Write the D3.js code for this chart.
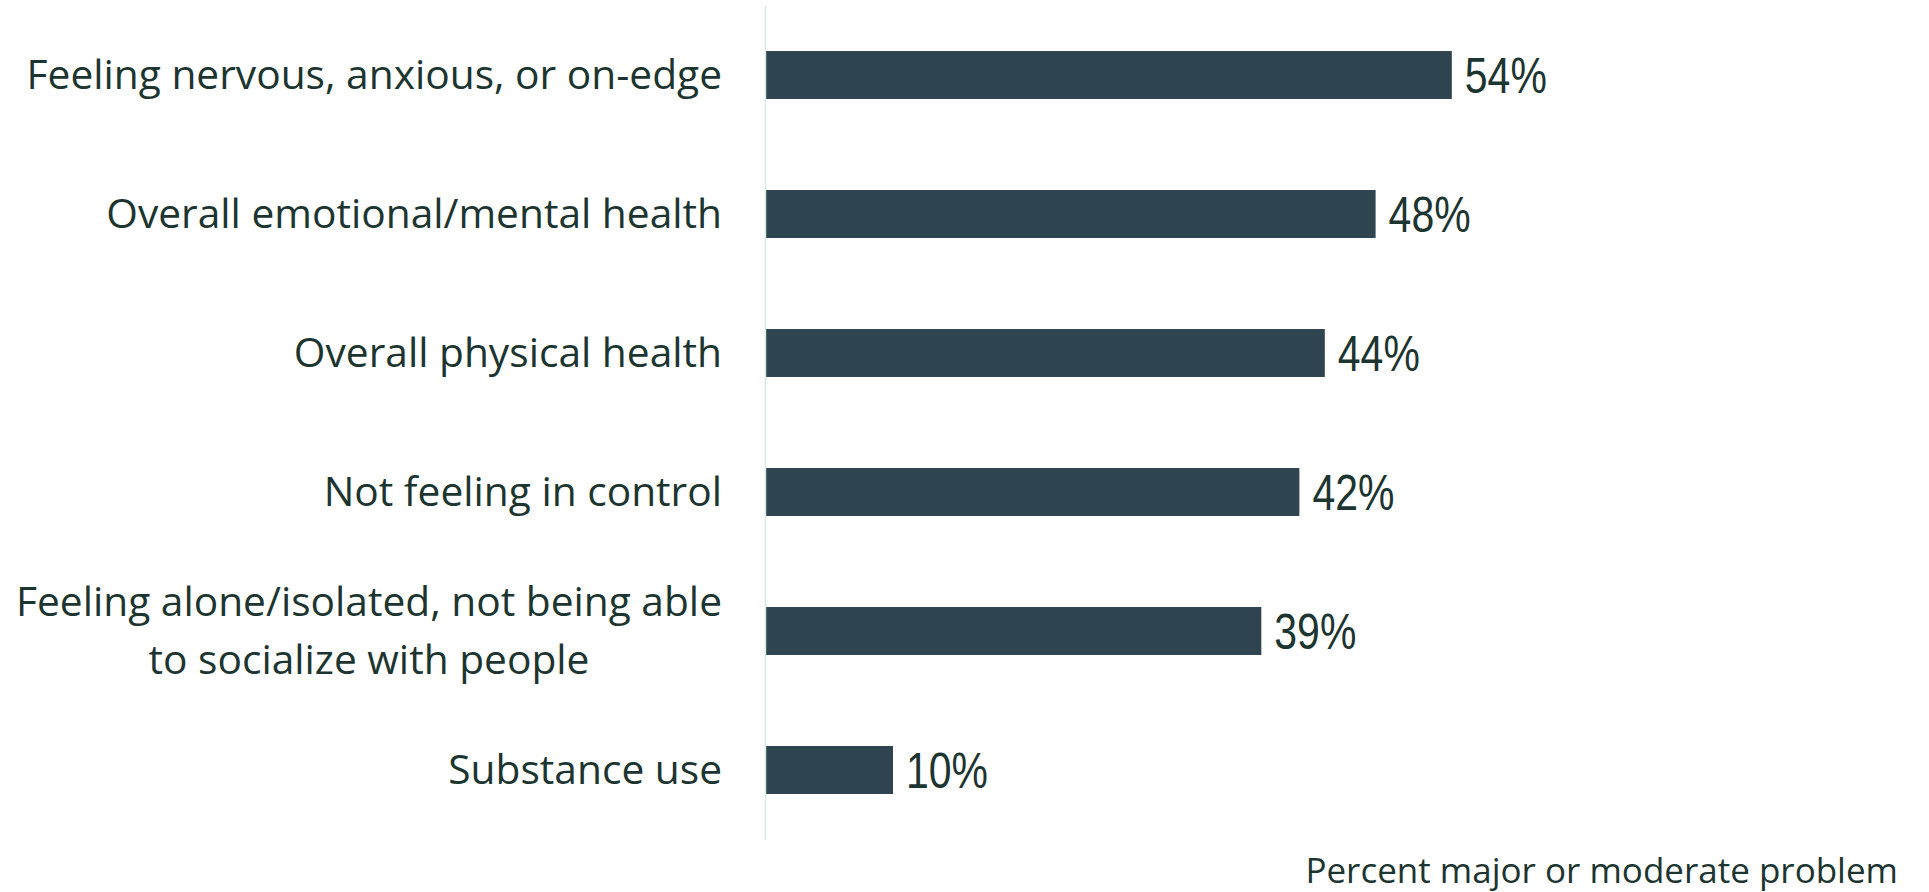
<!DOCTYPE html>
<html>
<head>
<meta charset="utf-8">
<script src="https://cdn.jsdelivr.net/npm/d3@7"></script>
<style>
  html, body { margin: 0; padding: 0; background: #ffffff; }
  svg { display: block; }
</style>
</head>
<body>
<svg id="chart" width="1929" height="892"></svg>
<script>
// Survey items (wrapped labels split into lines)
const categories = [
  ["Feeling nervous, anxious, or on-edge"],
  ["Overall emotional/mental health"],
  ["Overall physical health"],
  ["Not feeling in control"],
  ["Feeling alone/isolated, not being able", "to socialize with people"],
  ["Substance use"]
];
const values = [54, 48, 44, 42, 39, 10];
const axisTitle = "Percent major or moderate problem";

const left = 766;
const svg = d3.select("#chart");

const keys = categories.map((c, i) => i);
const y = d3.scaleBand()
  .domain(keys)
  .range([5.5, 839.5])
  .paddingInner(0.655)
  .paddingOuter(0.3275);

const x = d3.scaleLinear().domain([0, 100]).range([left, left + 1270]);

const barColor = "#2e444f";
const textColor = "#1d3530";

// Bars
svg.append("g").selectAll("rect")
  .data(values)
  .join("rect")
  .attr("x", x(0))
  .attr("y", (d, i) => y(i))
  .attr("width", d => x(d) - x(0))
  .attr("height", y.bandwidth())
  .attr("fill", barColor);

// Vertical baseline
svg.append("line")
  .attr("x1", left - 0.5).attr("x2", left - 0.5)
  .attr("y1", 6).attr("y2", 840)
  .attr("stroke", "#d6e9e5").attr("stroke-width", 1.5);

// Value labels, in a condensed sans
svg.append("g").selectAll("text")
  .data(values)
  .join("text")
  .attr("transform", (d, i) => `translate(${x(d) + 13},${y(i) + y.bandwidth() / 2}) scale(0.82,1)`)
  .attr("dy", "0.36em")
  .attr("font-family", "'Liberation Sans', Arial, sans-serif")
  .attr("font-size", 50)
  .attr("fill", textColor)
  .text(d => d + "%");

// Category labels (multi-line labels are centred as a block, right-aligned to the axis)
const labelRight = 722;
const lineGap = 58;
const labelFont = "'Open Sans', 'Noto Sans', sans-serif";
const labelSize = 40.7;
const lg = svg.append("g");
categories.forEach((lines, i) => {
  const cy = y(i) + y.bandwidth() / 2;
  const g = lg.append("g");
  if (lines.length === 1) {
    g.append("text")
      .attr("x", labelRight).attr("y", cy).attr("dy", "0.35em")
      .attr("text-anchor", "end")
      .attr("font-family", labelFont).attr("font-size", labelSize)
      .attr("fill", textColor)
      .text(lines[0]);
  } else {
    const ts = lines.map((t, k) => g.append("text")
      .attr("y", cy + (k - (lines.length - 1) / 2) * lineGap).attr("dy", "0.35em")
      .attr("text-anchor", "middle")
      .attr("font-family", labelFont).attr("font-size", labelSize)
      .attr("fill", textColor)
      .text(t));
    const maxW = d3.max(ts, t => t.node().getComputedTextLength());
    ts.forEach(t => t.attr("x", labelRight - maxW / 2));
  }
});

// Axis title
svg.append("text")
  .attr("x", 1898).attr("y", 883)
  .attr("text-anchor", "end")
  .attr("font-family", labelFont).attr("font-size", 35)
  .attr("fill", textColor)
  .text(axisTitle);
</script>
</body>
</html>
